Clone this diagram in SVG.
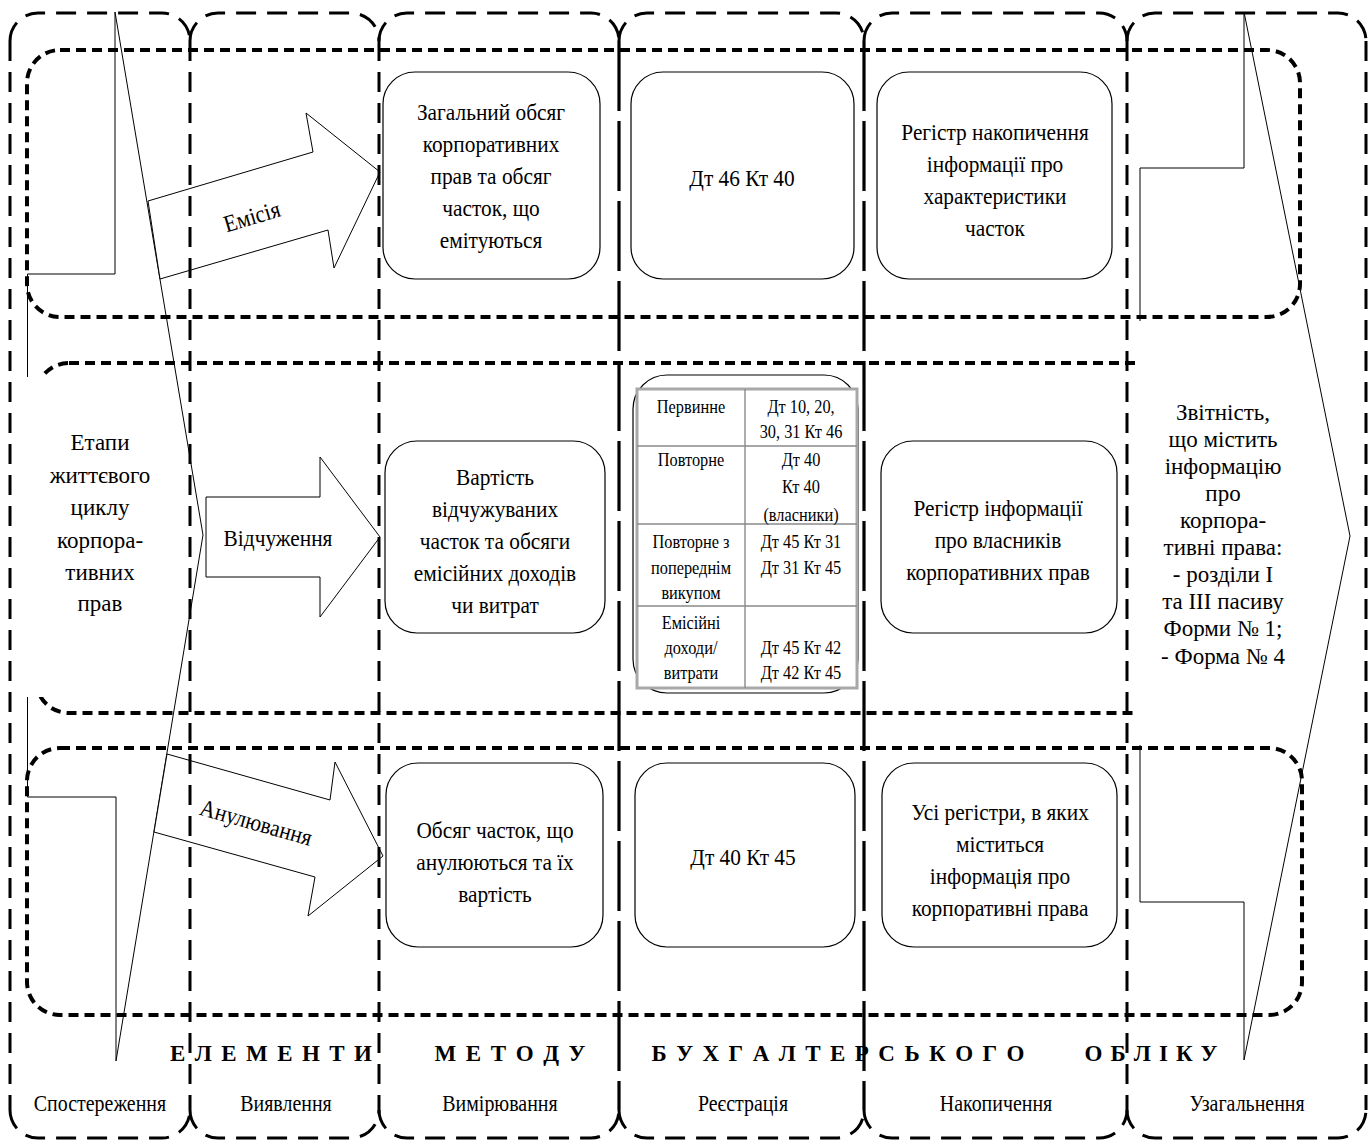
<svg xmlns="http://www.w3.org/2000/svg" width="1370" height="1143" viewBox="0 0 1370 1143">
<style>
.col{fill:none;stroke:#000;stroke-width:3;stroke-dasharray:20 11}
.colh{fill:none;stroke:#000;stroke-width:3.2;stroke-dasharray:70 10}
.band{fill:none;stroke:#000;stroke-width:4;stroke-dasharray:10 6}
.thin{fill:#fff;stroke:#000;stroke-width:1}
.node{fill:#fff;stroke:#000;stroke-width:1.2}
.t{font-family:"Liberation Serif","Times New Roman",serif;fill:#000;text-anchor:middle}
.n{font-size:24px}
.s{font-size:23px}
.tb{font-size:19px}
.lab{font-size:24px}
.h{font-size:23px;font-weight:bold}
.grid{stroke:#8a8a8a;stroke-width:1.4;fill:none}
</style>
<rect width="1370" height="1143" fill="#fff"/>
<!-- big arrows -->
<g id="stages-arrow">
<polygon class="thin" points="27.5,274 115,274 115,12 203,535 116,1061 116,797 27.5,797"/>
</g>
<g id="report-arrow">
<polygon class="thin" points="1140,168 1244,168 1244,12 1350,536 1244,1060 1244,902 1140,902"/>
</g>
<!-- band 2 (partly hidden) -->
<g id="band-2"><rect class="band" x="36" y="363" width="1260" height="350" rx="33"/></g>
<g id="stages-label">
<rect x="26" y="377" width="149" height="320" fill="#fff"/>
<text class="t s" x="100" y="450">Етапи</text>
<text class="t s" x="100" y="483">життєвого</text>
<text class="t s" x="100" y="515">циклу</text>
<text class="t s" x="100" y="548">корпора-</text>
<text class="t s" x="100" y="580">тивних</text>
<text class="t s" x="100" y="611">прав</text>
</g>
<g id="report-label">
<rect x="1136" y="321" width="166" height="424" fill="#fff"/>
<text class="t s" x="1223" y="420">Звітність,</text>
<text class="t s" x="1223" y="447">що містить</text>
<text class="t s" x="1223" y="474">інформацію</text>
<text class="t s" x="1223" y="501">про</text>
<text class="t s" x="1223" y="528">корпора-</text>
<text class="t s" x="1223" y="555">тивні права:</text>
<text class="t s" x="1223" y="582">- розділи І</text>
<text class="t s" x="1223" y="609">та ІІІ пасиву</text>
<text class="t s" x="1223" y="636">Форми № 1;</text>
<text class="t s" x="1223" y="664">- Форма № 4</text>
</g>
<!-- bands 1, 3 -->
<g id="band-1"><rect class="band" x="27" y="50" width="1273" height="267" rx="33"/></g>
<g id="band-3"><rect class="band" x="27" y="748" width="1275" height="267" rx="33"/></g>
<!-- connectors: block arrows -->
<g id="connectors">
<g id="arrow-emission">
<polygon class="thin" points="148,201 313,152 306,113 380,172 334,268 328,230 160,279"/>
<g transform="translate(252 217) rotate(-16.5) scale(0.89 1)"><text class="t n" x="0" y="7.5">Емісія</text></g>
</g>
<g id="arrow-alienation">
<polygon class="thin" points="206,497 320,497 320,457 380,537 320,617 320,577 206,577"/>
<g transform="translate(278 0) scale(0.89 1)"><text class="t n" x="0" y="546">Відчуження</text></g>
</g>
<g id="arrow-cancel">
<polygon class="thin" points="167,754 330,800 335,762 383,856 308,916 315,877 154,832"/>
<g transform="translate(256 823) rotate(15.8) scale(0.89 1)"><text class="t n" x="0" y="7.5">Анулювання</text></g>
</g>
</g>
<!-- columns -->
<g id="columns">
<path class="col" d="M10 41A28 28 0 0 1 38 13H162A28 28 0 0 1 190 41M10 1110A28 28 0 0 0 38 1138H162A28 28 0 0 0 190 1110"/>
<path class="col" d="M190 41A28 28 0 0 1 218 13H351A28 28 0 0 1 379 41M190 1110A28 28 0 0 0 218 1138H351A28 28 0 0 0 379 1110"/>
<path class="col" d="M379 41A28 28 0 0 1 407 13H591A28 28 0 0 1 619 41M379 1110A28 28 0 0 0 407 1138H591A28 28 0 0 0 619 1110"/>
<path class="col" d="M619 41A28 28 0 0 1 647 13H836A28 28 0 0 1 864 41M619 1110A28 28 0 0 0 647 1138H836A28 28 0 0 0 864 1110"/>
<path class="col" d="M864 41A28 28 0 0 1 892 13H1099A28 28 0 0 1 1127 41M864 1110A28 28 0 0 0 892 1138H1099A28 28 0 0 0 1127 1110"/>
<path class="col" d="M1127 41A28 28 0 0 1 1155 13H1338A28 28 0 0 1 1366 41M1127 1110A28 28 0 0 0 1155 1138H1338A28 28 0 0 0 1366 1110"/>
<path class="col" d="M10 41V1110M190 41V1110M379 41V1110M1127 41V1110M1366 41V1110"/>
<path class="colh" d="M619 41V1110M864 41V1110"/>
</g>
<!-- row 1 nodes -->
<g id="node-emission-measure">
<rect class="node" x="383" y="72" width="217" height="207" rx="32"/>
<g transform="translate(491 0) scale(0.89 1)">
<text class="t n" x="0" y="120.5">Загальний обсяг</text>
<text class="t n" x="0" y="152.5">корпоративних</text>
<text class="t n" x="0" y="184.5">прав та обсяг</text>
<text class="t n" x="0" y="216.5">часток, що</text>
<text class="t n" x="0" y="248.5">емітуються</text>
</g>
</g>
<g id="node-emission-reg">
<rect class="node" x="631" y="72" width="223" height="207" rx="32"/>
<g transform="translate(742 0) scale(0.89 1)"><text class="t n" x="0" y="186">Дт 46 Кт 40</text></g>
</g>
<g id="node-emission-acc">
<rect class="node" x="877" y="72" width="235" height="207" rx="32"/>
<g transform="translate(995 0) scale(0.89 1)">
<text class="t n" x="0" y="140">Регістр накопичення</text>
<text class="t n" x="0" y="172">інформації про</text>
<text class="t n" x="0" y="204">характеристики</text>
<text class="t n" x="0" y="236">часток</text>
</g>
</g>
<!-- row 2 nodes -->
<g id="node-alien-measure">
<rect class="node" x="385" y="441" width="220" height="192" rx="32"/>
<g transform="translate(495 0) scale(0.89 1)">
<text class="t n" x="0" y="485">Вартість</text>
<text class="t n" x="0" y="517">відчужуваних</text>
<text class="t n" x="0" y="549">часток та обсяги</text>
<text class="t n" x="0" y="581">емісійних доходів</text>
<text class="t n" x="0" y="613">чи витрат</text>
</g>
</g>
<g id="node-alien-reg">
<rect class="node" x="633" y="375" width="225" height="318" rx="34"/>
<rect x="637" y="389" width="220" height="299" fill="#fff" stroke="#a8a8a8" stroke-width="3"/>
<line class="grid" x1="745" y1="389" x2="745" y2="688"/>
<line class="grid" x1="637" y1="446" x2="857" y2="446"/>
<line class="grid" x1="637" y1="524" x2="857" y2="524"/>
<line class="grid" x1="637" y1="606" x2="857" y2="606"/>
<g transform="translate(691 0) scale(0.86 1)">
<text class="t tb" x="0" y="413">Первинне</text>
<text class="t tb" x="0" y="466">Повторне</text>
<text class="t tb" x="0" y="548">Повторне з</text>
<text class="t tb" x="0" y="574">попереднім</text>
<text class="t tb" x="0" y="599">викупом</text>
<text class="t tb" x="0" y="629">Емісійні</text>
<text class="t tb" x="0" y="654">доходи/</text>
<text class="t tb" x="0" y="679">витрати</text>
</g>
<g transform="translate(801 0) scale(0.86 1)">
<text class="t tb" x="0" y="413">Дт 10, 20,</text>
<text class="t tb" x="0" y="438">30, 31 Кт 46</text>
<text class="t tb" x="0" y="466">Дт 40</text>
<text class="t tb" x="0" y="493">Кт 40</text>
<text class="t tb" x="0" y="521">(власники)</text>
<text class="t tb" x="0" y="548">Дт 45 Кт 31</text>
<text class="t tb" x="0" y="574">Дт 31 Кт 45</text>
<text class="t tb" x="0" y="654">Дт 45 Кт 42</text>
<text class="t tb" x="0" y="679">Дт 42 Кт 45</text>
</g>
</g>
<g id="node-alien-acc">
<rect class="node" x="881" y="441" width="236" height="192" rx="32"/>
<g transform="translate(998 0) scale(0.89 1)">
<text class="t n" x="0" y="516">Регістр інформації</text>
<text class="t n" x="0" y="548">про власників</text>
<text class="t n" x="0" y="580">корпоративних прав</text>
</g>
</g>
<!-- row 3 nodes -->
<g id="node-cancel-measure">
<rect class="node" x="386" y="763" width="217" height="184" rx="32"/>
<g transform="translate(495 0) scale(0.89 1)">
<text class="t n" x="0" y="838">Обсяг часток, що</text>
<text class="t n" x="0" y="870">анулюються та їх</text>
<text class="t n" x="0" y="902">вартість</text>
</g>
</g>
<g id="node-cancel-reg">
<rect class="node" x="635" y="763" width="220" height="184" rx="32"/>
<g transform="translate(743 0) scale(0.89 1)"><text class="t n" x="0" y="865">Дт 40 Кт 45</text></g>
</g>
<g id="node-cancel-acc">
<rect class="node" x="882" y="763" width="235" height="184" rx="32"/>
<g transform="translate(1000 0) scale(0.89 1)">
<text class="t n" x="0" y="820">Усі регістри, в яких</text>
<text class="t n" x="0" y="852">міститься</text>
<text class="t n" x="0" y="884">інформація про</text>
<text class="t n" x="0" y="916">корпоративні права</text>
</g>
</g>
<!-- heading -->
<g id="heading">
<text class="t h" x="271" y="1061" textLength="202" lengthAdjust="spacing">Е Л Е М Е Н Т И</text>
<text class="t h" x="510" y="1061" textLength="151" lengthAdjust="spacing">М Е Т О Д У</text>
<text class="t h" x="838" y="1061" textLength="373" lengthAdjust="spacing">Б У Х Г А Л Т Е Р С Ь К О Г О</text>
<text class="t h" x="1151" y="1061" textLength="133" lengthAdjust="spacing">О Б Л І К У</text>
</g>
<!-- column labels -->
<g id="column-labels">
<g transform="translate(100 0) scale(0.83 1)"><text class="t lab" x="0" y="1111">Спостереження</text></g>
<g transform="translate(286 0) scale(0.83 1)"><text class="t lab" x="0" y="1111">Виявлення</text></g>
<g transform="translate(500 0) scale(0.83 1)"><text class="t lab" x="0" y="1111">Вимірювання</text></g>
<g transform="translate(743 0) scale(0.83 1)"><text class="t lab" x="0" y="1111">Реєстрація</text></g>
<g transform="translate(996 0) scale(0.83 1)"><text class="t lab" x="0" y="1111">Накопичення</text></g>
<g transform="translate(1247 0) scale(0.83 1)"><text class="t lab" x="0" y="1111">Узагальнення</text></g>
</g>
</svg>
